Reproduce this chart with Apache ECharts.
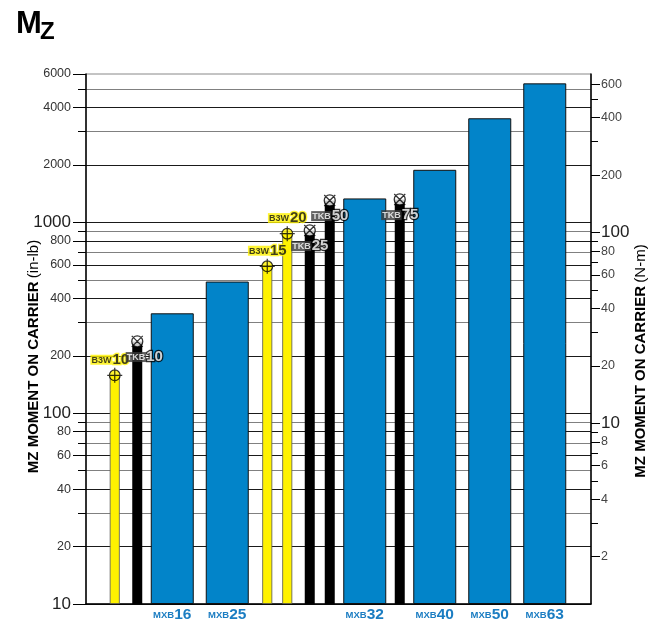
<!DOCTYPE html>
<html><head><meta charset="utf-8">
<script src="https://cdn.jsdelivr.net/npm/echarts@6/dist/echarts.min.js"></script>
<style>html,body{margin:0;padding:0;background:#fff}#chart{width:653px;height:625px}</style>
</head><body><div id="chart"></div>
<script>
// ---------- data ----------
const models      = ['B3W10','TKB10','MXB16','MXB25','B3W15','B3W20','TKB25','TKB50','MXB32','TKB75','MXB40','MXB50','MXB63'];
const productLine = ['B3W',  'TKB',  'MXB',  'MXB',  'B3W',  'B3W',  'TKB',  'TKB',  'MXB',  'TKB',  'MXB',  'MXB',  'MXB'];
const mzInLb      = [158,    238,    334,    490,    589,    873,    908,    1304,   1336,   1320,   1888,   3516,   5360];

const leftMajorTicks  = [10, 20, 40, 60, 80, 100, 200, 400, 600, 800, 1000, 2000, 4000, 6000];
const leftMinorTicks  = [30, 50, 70, 90, 300, 500, 700, 900, 3000, 5000];
const rightMajorTicks = [2, 4, 6, 8, 10, 20, 40, 60, 80, 100, 200, 400, 600];
const rightMinorTicks = [3, 5, 7, 9, 30, 50, 70, 90, 300, 500];
const bigTickLabels   = [10, 100, 1000];

const IN_LB_PER_NM = 8.8507;
const AXIS_MIN_INLB = 10, AXIS_MAX_INLB = 6000;

// ---------- layout (not data) ----------
const SLOT_COUNT = 202;
const slotOf = [11, 20, 34, 56, 72, 80, 89, 97, 111, 125, 139, 161, 183];
const labelShift = { 'B3W10': [-5, 0], 'TKB10': [7, 0] };

const FONT = "'Liberation Sans Narrow','Arial Narrow','Liberation Sans',sans-serif";
const BLUE = '#0284c9', YELLOW = '#fff200';

// ---------- build ----------
const categories = Array.from({length: SLOT_COUNT}, (_, i) => '_' + i);
slotOf.forEach((s, i) => { categories[s] = models[i]; });

function barData(line) {
  const d = categories.map(() => '-');
  models.forEach((m, i) => { if (productLine[i] === line) d[slotOf[i]] = mzInLb[i]; });
  return d;
}
function markerData(line) {
  const d = categories.map(() => '-');
  models.forEach((m, i) => {
    if (productLine[i] === line) {
      d[slotOf[i]] = { value: mzInLb[i], name: m, family: line, size: m.slice(3),
        label: { offset: labelShift[m] || [0, 0] } };
    }
  });
  return d;
}
const lg = Math.log10;
const bigOrNormal = v => bigTickLabels.indexOf(v) >= 0 ? '{big|' + v + '}' : '{n|' + v + '}';
const nameRich = {
  b: { fontFamily: FONT, fontSize: 15, fontWeight: 'bold', color: '#000' },
  r: { fontFamily: FONT, fontSize: 15, color: '#000' }
};

const chart = echarts.init(document.getElementById('chart'), null, {renderer: 'canvas'});
chart.setOption({
  animation: false,
  backgroundColor: '#fff',
  title: [
    { text: 'M', left: 16, top: 9, padding: 0,
      textStyle: { fontFamily: FONT, fontSize: 31, fontWeight: 'bold', color: '#000' } },
    { text: 'Z', left: 40, top: 20, padding: 0,
      textStyle: { fontFamily: FONT, fontSize: 24, fontWeight: 'bold', color: '#000' } }
  ],
  grid: { left: 86, right: 62, top: 74, bottom: 21, show: true, borderColor: '#888', borderWidth: 1, outerBoundsMode: 'none', containLabel: false },
  xAxis: [
    { type: 'category', data: categories, position: 'bottom',
      axisLine: { lineStyle: { color: '#000', width: 1.5 } },
      axisTick: { show: false }, splitLine: { show: false },
      axisLabel: { interval: 0, margin: 3,
        formatter: v => v.indexOf('MXB') === 0 ? '{s|MXB}{b|' + v.slice(3) + '}' : '',
        rich: {
          s: { fontFamily: FONT, fontSize: 9.5, fontWeight: 'bold', color: '#1b7dc2' },
          b: { fontFamily: FONT, fontSize: 15.5, fontWeight: 'bold', color: '#1b7dc2' }
        } } },
    { type: 'category', data: categories, show: false }
  ],
  yAxis: [
    { type: 'log', logBase: 10, min: AXIS_MIN_INLB, max: AXIS_MAX_INLB, startValue: AXIS_MIN_INLB, show: false },
    { type: 'value', position: 'left', min: lg(AXIS_MIN_INLB), max: lg(AXIS_MAX_INLB),
      axisLine: { show: true, lineStyle: { color: '#000', width: 1.5 } },
      axisTick: { show: true, length: 13, customValues: leftMajorTicks.map(lg), lineStyle: { color: '#000', width: 1 } },
      axisLabel: { customValues: leftMajorTicks.map(lg), margin: 15,
        formatter: v => bigOrNormal(Math.round(Math.pow(10, v))),
        rich: { n: { fontFamily: FONT, fontSize: 12.5, color: '#333' }, big: { fontFamily: FONT, fontSize: 17, color: '#222' } } },
      splitLine: { show: true, showMaxLine: false, lineStyle: { color: '#1a1a1a', width: 1 } },
      name: '{b|MZ MOMENT ON CARRIER} {r|(in-lb)}', nameLocation: 'middle', nameRotate: 90, nameGap: 45,
      nameMoveOverlap: false,
      nameTextStyle: { padding: [0, 35, 0, 0], rich: nameRich } },
    { type: 'value', position: 'left', min: lg(AXIS_MIN_INLB), max: lg(AXIS_MAX_INLB),
      axisLine: { show: false },
      axisTick: { show: true, length: 8, customValues: leftMinorTicks.map(lg), lineStyle: { color: '#000', width: 1 } },
      axisLabel: { show: false },
      splitLine: { show: true, lineStyle: { color: '#808080', width: 1 } } },
    { type: 'value', position: 'right', min: lg(AXIS_MIN_INLB / IN_LB_PER_NM), max: lg(AXIS_MAX_INLB / IN_LB_PER_NM),
      axisLine: { show: true, lineStyle: { color: '#000', width: 1.5 } },
      axisTick: { show: true, length: 9, customValues: rightMajorTicks.map(lg), lineStyle: { color: '#000', width: 1 } },
      axisLabel: { customValues: rightMajorTicks.map(lg), margin: 10,
        formatter: v => bigOrNormal(Math.round(Math.pow(10, v))),
        rich: { n: { fontFamily: FONT, fontSize: 12.5, color: '#444' }, big: { fontFamily: FONT, fontSize: 17, color: '#222' } } },
      splitLine: { show: false },
      name: '{b|MZ MOMENT ON CARRIER} {r|(N-m)}', nameLocation: 'middle', nameRotate: 90, nameGap: 42,
      nameMoveOverlap: false,
      nameTextStyle: { padding: [0, 44, 0, 0], rich: nameRich } },
    { type: 'value', position: 'right', min: lg(AXIS_MIN_INLB / IN_LB_PER_NM), max: lg(AXIS_MAX_INLB / IN_LB_PER_NM),
      axisLine: { show: false },
      axisTick: { show: true, length: 7, customValues: rightMinorTicks.map(lg), lineStyle: { color: '#000', width: 1 } },
      axisLabel: { show: false }, splitLine: { show: false } }
  ],
  series: [
    { name: 'MXB', type: 'bar', xAxisIndex: 0, yAxisIndex: 0, barWidth: 43, clip: true, z: 2,
      itemStyle: { color: BLUE, borderColor: '#111', borderWidth: 1 }, data: barData('MXB') },
    { name: 'B3W', type: 'bar', xAxisIndex: 1, yAxisIndex: 0, barWidth: 10, barGap: '-100%', clip: true, z: 2,
      itemStyle: { color: YELLOW, borderColor: '#555', borderWidth: 0.8 }, data: barData('B3W') },
    { name: 'TKB', type: 'bar', xAxisIndex: 1, yAxisIndex: 0, barWidth: 10, barGap: '-100%', clip: true, z: 2,
      itemStyle: { color: '#000' }, data: barData('TKB') },
    { name: 'B3W marker', type: 'scatter', xAxisIndex: 1, yAxisIndex: 0, z: 4,
      symbol: 'path://M2,7A5,5,0,1,1,12,7A5,5,0,1,1,2,7ZM0,7L14,7M7,0L7,14', symbolSize: 15,
      itemStyle: { color: YELLOW, borderColor: '#000', borderWidth: 1.2 },
      label: { show: true, position: 'top', distance: 0,
        formatter: p => '{a|' + p.data.family + '}{b|' + p.data.size + '}',
        rich: {
          a: { fontFamily: FONT, fontSize: 9, fontWeight: 'bold', color: '#111', backgroundColor: YELLOW, padding: [1, 1, 0, 1] },
          b: { fontFamily: FONT, fontSize: 15, fontWeight: 'bold', color: '#111', textBorderColor: YELLOW, textBorderWidth: 2.5 }
        } },
      data: markerData('B3W') },
    { name: 'TKB marker', type: 'scatter', xAxisIndex: 1, yAxisIndex: 0, z: 4,
      symbol: 'path://M2,7A5,5,0,1,1,12,7A5,5,0,1,1,2,7ZM2,2L12,12M12,2L2,12', symbolSize: 11,
      itemStyle: { color: '#fff', borderColor: '#000', borderWidth: 1.3 },
      label: { show: true, position: 'bottom', distance: 2,
        formatter: p => '{a|' + p.data.family + '}{b|' + p.data.size + '}',
        rich: {
          a: { fontFamily: FONT, fontSize: 9, fontWeight: 'bold', color: '#fff', backgroundColor: '#3a3a3a', padding: [1, 1, 0, 1] },
          b: { fontFamily: FONT, fontSize: 15, fontWeight: 'bold', color: '#fff', textBorderColor: '#000', textBorderWidth: 2.5 }
        } },
      data: markerData('TKB') }
  ]
});
</script></body></html>
